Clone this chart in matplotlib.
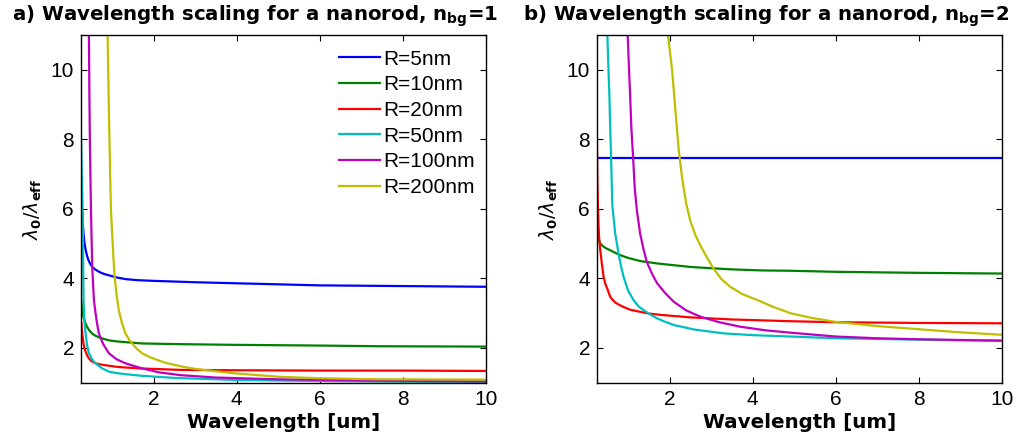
import matplotlib
matplotlib.use("Agg")
import matplotlib.pyplot as plt

# ---- data (wavelength in um, lambda0/lambda_eff) ----
labels = ["R=5nm", "R=10nm", "R=20nm", "R=50nm", "R=100nm", "R=200nm"]
colors = ["#0000ff", "#008000", "#ff0000", "#00bfbf", "#bf00bf", "#bfbf00"]

# panel a) n_bg = 1
a_x_5 = [0.25, 0.27, 0.29, 0.31, 0.33, 0.35, 0.38, 0.42, 0.47, 0.52, 0.6, 0.7, 0.8, 0.92, 1.1, 1.32,
         1.6, 2.0, 3.0, 4.0, 6.0, 8.0, 10.0]
a_y_5 = [6.3, 6.0, 5.6, 5.3, 5.05, 4.9, 4.72, 4.55, 4.42, 4.33, 4.25, 4.18, 4.13, 4.09, 4.03, 3.98,
         3.95, 3.93, 3.89, 3.86, 3.80, 3.78, 3.76]
a_x_10 = [0.25, 0.265, 0.28, 0.31, 0.36, 0.40, 0.44, 0.52, 0.6, 0.7, 0.8, 0.92, 1.1, 1.3, 1.72,
          2.64, 4.0, 6.0, 7.46, 10.0]
a_y_10 = [3.4, 3.25, 3.1, 2.88, 2.70, 2.60, 2.52, 2.41, 2.35, 2.30, 2.26, 2.22, 2.19, 2.17, 2.13,
          2.11, 2.09, 2.07, 2.05, 2.04]
a_x_20 = [0.26, 0.27, 0.28, 0.31, 0.33, 0.36, 0.40, 0.44, 0.5, 0.6, 0.75, 0.92, 1.1, 1.3, 1.72,
          2.64, 4.0, 6.0, 8.0, 10.0]
a_y_20 = [2.71, 2.55, 2.4, 2.13, 2.0, 1.9, 1.78, 1.70, 1.62, 1.56, 1.52, 1.49, 1.46, 1.44, 1.41,
          1.37, 1.36, 1.35, 1.35, 1.34]
a_x_50 = [0.25, 0.27, 0.29, 0.30, 0.31, 0.33, 0.36, 0.40, 0.44, 0.52, 0.6, 0.75, 0.92, 1.1, 1.3,
          1.72, 2.5, 4.0, 6.0, 8.0, 10.0]
a_y_50 = [8.0, 7.0, 5.9, 4.6, 3.4, 2.8, 2.42, 2.05, 1.85, 1.66, 1.56, 1.42, 1.32, 1.28, 1.25,
          1.20, 1.14, 1.08, 1.05, 1.03, 1.02]
a_x_100 = [0.44, 0.45, 0.46, 0.475, 0.49, 0.505, 0.52, 0.56, 0.6, 0.64, 0.68, 0.75, 0.8, 0.92,
           1.1, 1.32, 1.7, 2.12, 2.64, 3.5, 5.0, 7.5, 10.0]
a_y_100 = [11.0, 9.5, 8.27, 7.0, 5.97, 5.1, 4.33, 3.38, 3.0, 2.68, 2.42, 2.2, 2.08, 1.85,
           1.68, 1.56, 1.42, 1.30, 1.22, 1.15, 1.10, 1.06, 1.04]
a_x_200 = [0.89, 0.91, 0.93, 0.95, 0.97, 1.0, 1.03, 1.06, 1.11, 1.16, 1.24, 1.32, 1.42, 1.5, 1.6,
           1.72, 1.9, 2.1, 2.3, 2.52, 2.75, 3.0, 3.5, 3.97, 4.5, 5.05, 6.0, 7.46, 10.0]
a_y_200 = [11.0, 9.6, 8.27, 7.1, 5.97, 5.3, 4.6, 4.05, 3.5, 3.08, 2.7, 2.42, 2.22, 2.1, 1.97,
           1.85, 1.74, 1.65, 1.57, 1.51, 1.45, 1.40, 1.33, 1.27, 1.22, 1.17, 1.13, 1.10, 1.09]

# panel b) n_bg = 2
b_x_5 = [0.25, 2.0, 4.0, 6.0, 8.0, 10.0]
b_y_5 = [7.45, 7.45, 7.45, 7.45, 7.45, 7.45]
b_x_10 = [0.25, 0.265, 0.28, 0.3, 0.33, 0.4, 0.48, 0.57, 0.7, 0.81, 1.0, 1.29, 1.7, 2.1, 2.5,
          2.9, 3.5, 4.2, 4.91, 6.0, 8.0, 10.0]
b_y_10 = [5.40, 5.28, 5.2, 5.1, 5.0, 4.92, 4.86, 4.81, 4.73, 4.67, 4.59, 4.50, 4.43, 4.38, 4.33,
          4.30, 4.26, 4.23, 4.22, 4.19, 4.16, 4.14]
b_x_20 = [0.25, 0.255, 0.26, 0.27, 0.285, 0.30, 0.33, 0.37, 0.41, 0.45, 0.5, 0.57, 0.63, 0.7, 0.8,
          0.89, 1.05, 1.29, 1.5, 1.8, 2.5, 3.5, 4.91, 6.0, 8.0, 10.0]
b_y_20 = [8.0, 7.3, 6.8, 6.2, 5.6, 5.2, 4.81, 4.4, 4.05, 3.85, 3.7, 3.47, 3.38, 3.3, 3.23,
          3.18, 3.1, 3.04, 2.99, 2.95, 2.88, 2.82, 2.77, 2.74, 2.72, 2.71]
b_x_50 = [0.50, 0.525, 0.55, 0.57, 0.59, 0.62, 0.69, 0.77, 0.83, 0.89, 1.0, 1.13, 1.25, 1.37,
          1.55, 1.7, 1.9, 2.1, 2.6, 3.3, 4.0, 4.91, 6.0, 8.0, 10.0]
b_y_50 = [11.0, 10.1, 9.23, 8.3, 7.5, 6.1, 5.29, 4.72, 4.35, 4.05, 3.65, 3.38, 3.2, 3.09,
          2.95, 2.85, 2.75, 2.66, 2.53, 2.42, 2.37, 2.33, 2.28, 2.24, 2.21]
b_x_100 = [0.99, 1.02, 1.05, 1.08, 1.12, 1.16, 1.21, 1.29, 1.37, 1.45, 1.57, 1.70, 1.9, 2.1, 2.4,
           2.74, 3.2, 3.71, 4.3, 4.91, 6.0, 7.0, 8.0, 10.0]
b_y_100 = [11.0, 10.1, 9.23, 8.3, 7.5, 6.6, 5.97, 5.29, 4.85, 4.48, 4.15, 3.86, 3.57, 3.33, 3.08,
           2.90, 2.74, 2.61, 2.51, 2.44, 2.33, 2.28, 2.25, 2.21]
b_x_200 = [1.96, 2.01, 2.06, 2.14, 2.22, 2.30, 2.40, 2.50, 2.62, 2.74, 2.9, 3.06, 3.25, 3.46, 3.75,
           4.11, 4.5, 4.91, 5.4, 6.0, 7.0, 8.0, 9.0, 10.0]
b_y_200 = [11.0, 10.5, 10.0, 8.84, 7.7, 6.9, 6.15, 5.65, 5.25, 4.95, 4.6, 4.28, 3.98, 3.76, 3.55,
           3.38, 3.18, 3.0, 2.87, 2.75, 2.63, 2.54, 2.45, 2.38]

panel_a = [(a_x_5, a_y_5), (a_x_10, a_y_10), (a_x_20, a_y_20),
           (a_x_50, a_y_50), (a_x_100, a_y_100), (a_x_200, a_y_200)]
panel_b = [(b_x_5, b_y_5), (b_x_10, b_y_10), (b_x_20, b_y_20),
           (b_x_50, b_y_50), (b_x_100, b_y_100), (b_x_200, b_y_200)]

titles = [r"a) Wavelength scaling for a nanorod, n$_\mathbf{bg}$=1",
          r"b) Wavelength scaling for a nanorod, n$_\mathbf{bg}$=2"]
x_ticks = [2, 4, 6, 8, 10]
y_ticks = [2, 4, 6, 8, 10]

plt.rcParams["mathtext.fontset"] = "dejavusans"

fig = plt.figure(figsize=(10.18, 4.42), dpi=100)
ax_a = fig.add_axes([0.0796, 0.134, 0.3975, 0.787])
ax_b = fig.add_axes([0.5864, 0.134, 0.3975, 0.787])

for ax, panel, title, tx in [(ax_a, panel_a, titles[0], 12 / 1018),
                             (ax_b, panel_b, titles[1], 523 / 1018)]:
    for (xs, ys), c, lab in zip(panel, colors, labels):
        ax.plot(xs, ys, color=c, lw=1.6, label=lab)
    ax.set_xlim(0.25, 10)
    ax.set_ylim(1, 11)
    ax.set_xticks(x_ticks)
    ax.set_yticks(y_ticks)
    ax.tick_params(direction="in", top=True, right=True, length=4, width=0.8,
                   labelsize=15, pad=5)
    for lbl in ax.get_xticklabels() + ax.get_yticklabels():
        lbl.set_fontfamily("Liberation Sans")
    for sp in ax.spines.values():
        sp.set_linewidth(1.0)
    ax.set_xlabel("Wavelength [um]", fontsize=14.3, fontweight="bold", labelpad=3)
    ax.set_ylabel(r"$\lambda_\mathbf{0}/\lambda_\mathbf{eff}$", fontsize=13.5, labelpad=5)
    fig.text(tx, 0.993, title, fontsize=14.2, fontweight="bold", ha="left", va="top")

ax_a.legend(loc="upper right", bbox_to_anchor=(1.01, 1.0), frameon=False,
            prop={"family": "Liberation Sans", "size": 15},
            handlelength=2.0, handletextpad=0.16, labelspacing=0.32,
            borderaxespad=0.3)

fig.savefig("out.png", dpi=100)
